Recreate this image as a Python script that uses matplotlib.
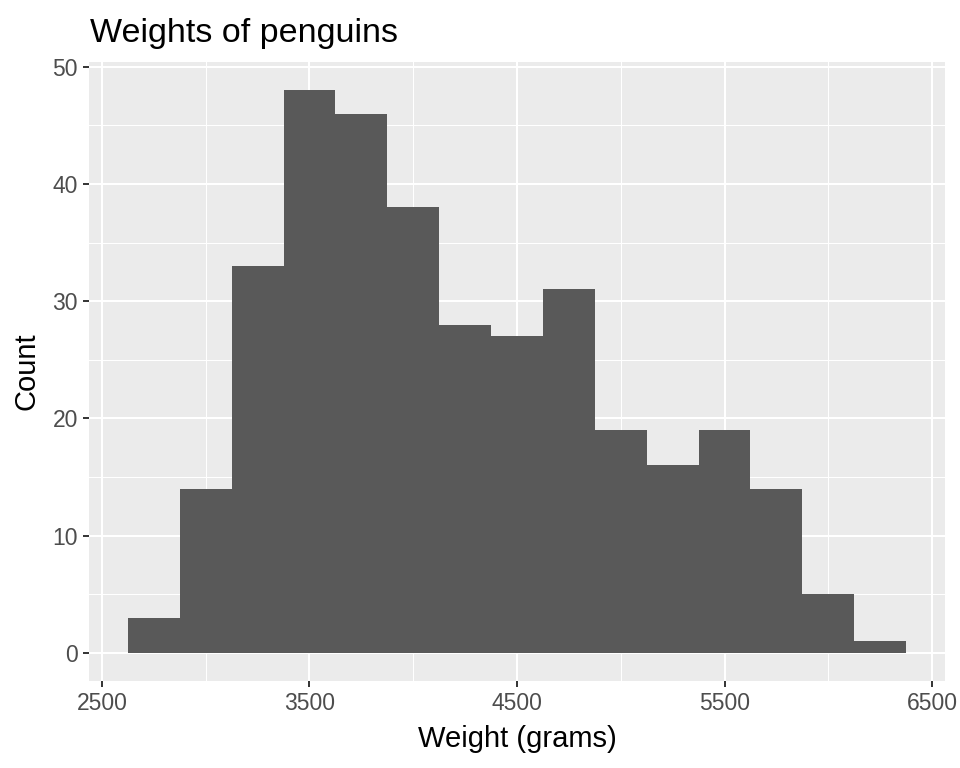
import matplotlib.pyplot as plt

plt.rcParams['font.family'] = ['Liberation Sans', 'DejaVu Sans']

# histogram of penguin body mass, binwidth 250
bin_starts = [2625, 2875, 3125, 3375, 3625, 3875, 4125, 4375, 4625, 4875,
              5125, 5375, 5625, 5875, 6125]
counts = [3, 14, 33, 48, 46, 38, 28, 27, 31, 19, 16, 19, 14, 5, 1]
bin_width = 250

x_major = [2500, 3500, 4500, 5500, 6500]
x_minor = [3000, 4000, 5000, 6000]
y_major = [0, 10, 20, 30, 40, 50]
y_minor = [5, 15, 25, 35, 45]

fig = plt.figure(figsize=(9.6, 7.68), dpi=100)
ax = fig.add_axes([89 / 960, 1 - 681 / 768, 856 / 960, 619 / 768])
ax.set_facecolor('#EBEBEB')

ax.bar(bin_starts, counts, width=bin_width, align='edge', color='#595959',
       linewidth=0, zorder=3)

ax.set_xlim(2437.5, 6562.5)
ax.set_ylim(-2.4, 50.4)
ax.set_xticks(x_major)
ax.set_xticks(x_minor, minor=True)
ax.set_yticks(y_major)
ax.set_yticks(y_minor, minor=True)

# ggplot-like grey panel with white grid
ax.grid(which='major', color='white', linewidth=1.5, zorder=0)
ax.grid(which='minor', color='white', linewidth=0.75, zorder=0)
ax.set_axisbelow(True)
for s in ax.spines.values():
    s.set_visible(False)

ax.tick_params(which='major', length=4.5, color='#333333', width=1.4,
               labelsize=16.5, labelcolor='#4D4D4D', pad=3.5)
ax.tick_params(which='minor', length=0)

fig.text(517 / 960, 1 - 747 / 768, 'Weight (grams)', fontsize=21,
         ha='center', va='baseline')
fig.text(27 / 960, 1 - 371 / 768, 'Count', fontsize=21,
         rotation=90, ha='center', va='center')
fig.text(90 / 960, 1 - 42 / 768, 'Weights of penguins', fontsize=24.5,
         ha='left', va='baseline')

fig.savefig('out.png', dpi=100)
